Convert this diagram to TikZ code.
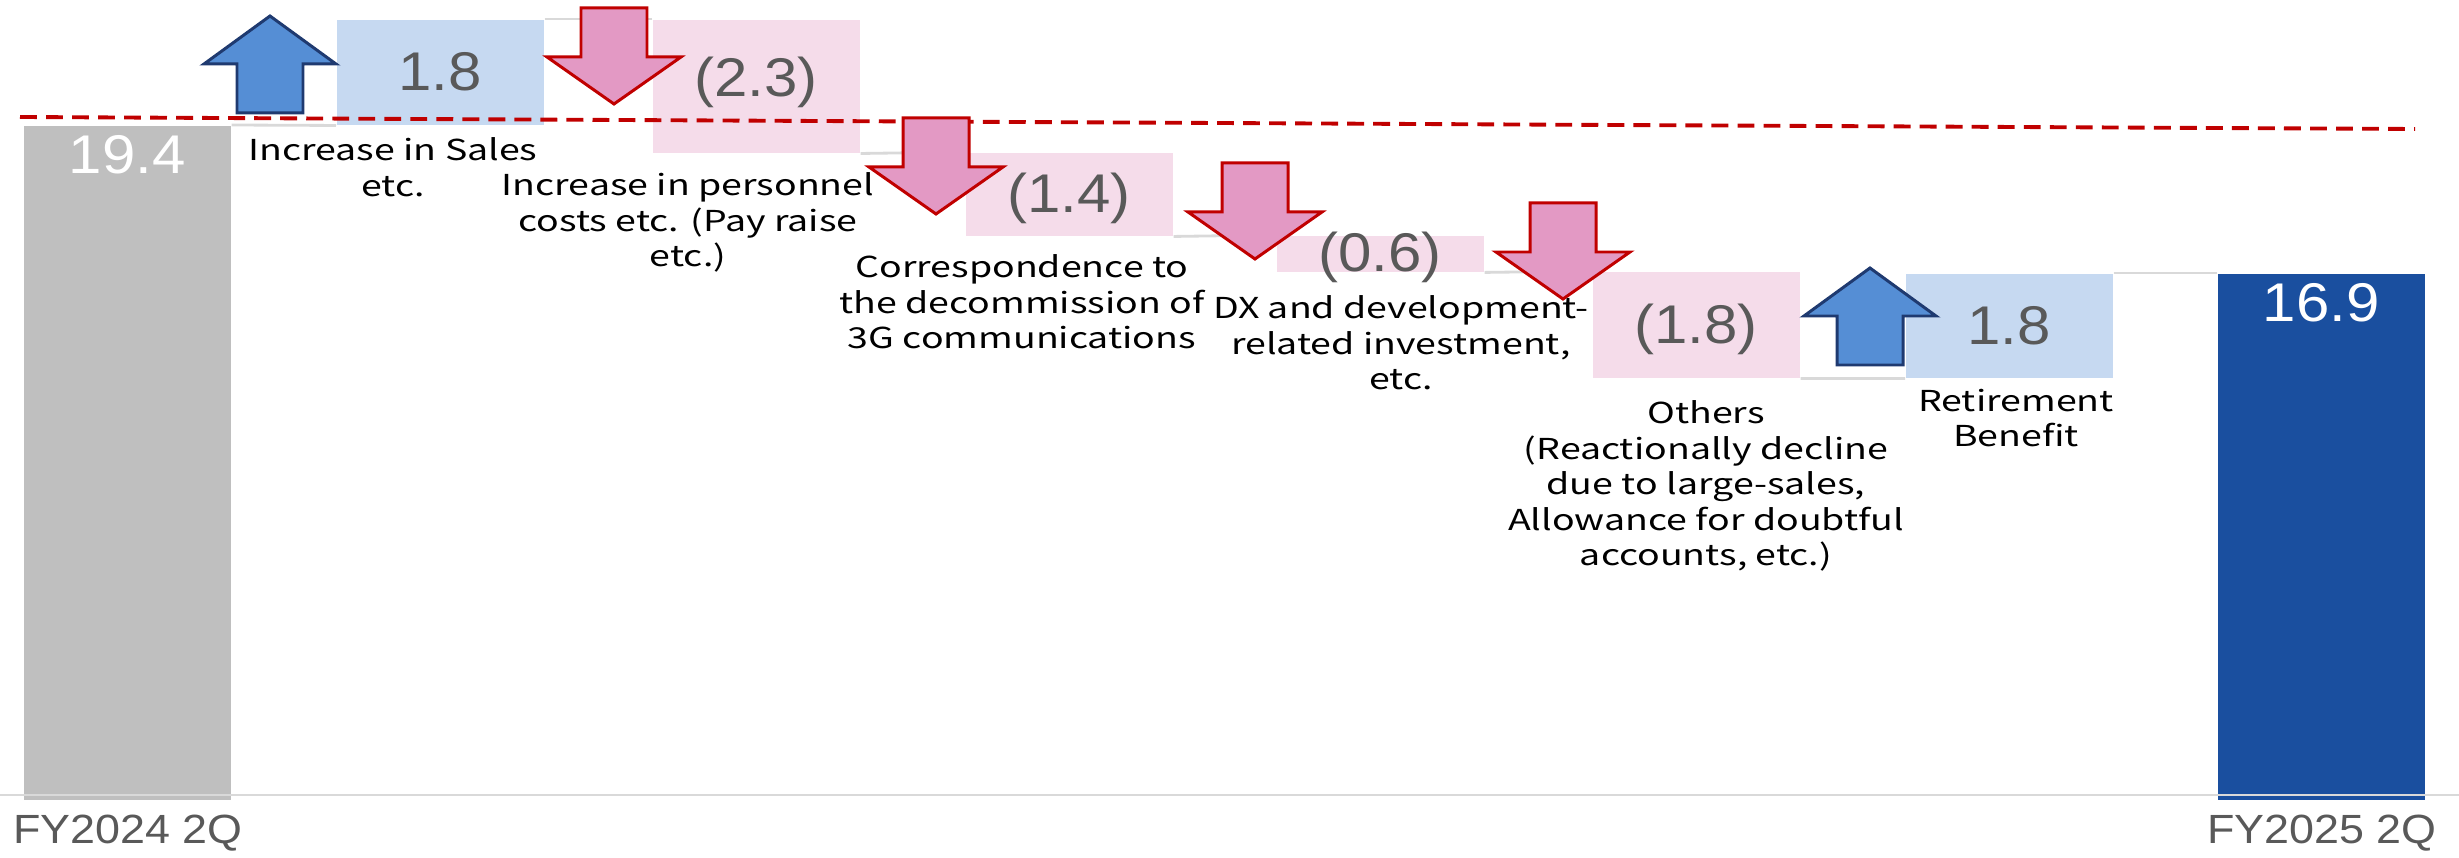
\documentclass[tikz,border=0pt]{standalone}
\usepackage{fontspec}
\setmainfont{Liberation Sans}
\newfontfamily\numfont[FakeStretch=1.1]{Liberation Sans}
\newfontfamily\lblfont[FakeStretch=1.3]{Noto Sans CJK JP}
\usetikzlibrary{positioning}
\usepackage{xcolor}

\definecolor{startgray}{HTML}{BFBFBF}
\definecolor{endblue}{HTML}{1A4F9F}
\definecolor{upbox}{HTML}{C6D9F1}
\definecolor{downbox}{HTML}{F5DCEA}
\definecolor{upfill}{HTML}{558ED5}
\definecolor{upedge}{HTML}{1F3A70}
\definecolor{downfill}{HTML}{E399C4}
\definecolor{downedge}{HTML}{C00000}
\definecolor{numgray}{HTML}{595959}
\definecolor{gridgray}{HTML}{D9D9D9}

% block arrows: centre x, foot y
\newcommand{\upblock}[2]{%
  \draw[uparr] (#1-33,#2) -- (#1-33,#2-49) -- (#1-66,#2-49) -- (#1,#2-97)
    -- (#1+66,#2-49) -- (#1+33,#2-49) -- (#1+33,#2) -- cycle;}
\newcommand{\downblock}[2]{%
  \draw[downarr] (#1-33,#2) -- (#1+33,#2) -- (#1+33,#2+49) -- (#1+67,#2+49)
    -- (#1,#2+96) -- (#1-67,#2+49) -- (#1-33,#2+49) -- cycle;}

\begin{document}
\begin{tikzpicture}[x=0.01cm, y=-0.01cm,
    bar/.style={anchor=north west, inner sep=0, minimum width=2.07cm},
    num/.style={inner sep=0, text=numgray, font=\numfont\fontsize{15.5}{18}\selectfont},
    lbl/.style={anchor=north, inner sep=0, align=center, font=\lblfont\fontsize{8.2}{10.1}\selectfont},
    axlbl/.style={inner sep=0, text=numgray, font=\numfont\fontsize{11.6}{14}\selectfont},
    link/.style={gridgray, line width=0.8pt},
    uparr/.style={fill=upfill, draw=upedge, line width=0.85pt},
    downarr/.style={fill=downfill, draw=downedge, line width=0.85pt}]
  \useasboundingbox (0,0) rectangle (2459,858);

  % bars
  \node[bar, fill=startgray, minimum height=6.74cm] (start) at (23,125) {};
  \node[bar, fill=upbox, minimum height=1.05cm] (inc1) at (336,19) {};
  \node[bar, fill=downbox, minimum height=1.33cm] (dec1) at (652,19) {};
  \node[bar, fill=downbox, minimum height=0.83cm] (dec2) at (965,152) {};
  \node[bar, fill=downbox, minimum height=0.36cm] (dec3) at (1276,235) {};
  \node[bar, fill=downbox, minimum height=1.06cm] (dec4) at (1592,271) {};
  \node[bar, fill=upbox, minimum height=1.04cm] (inc2) at (1905,273) {};
  \node[bar, fill=endblue, minimum height=5.26cm] (final) at (2217,273) {};

  % links between bars
  \draw[link] (start.north east) -- (inc1.south west);
  \draw[link] (inc1.north east) -- (dec1.north west);
  \draw[link] (dec1.south east) -- (dec2.north west);
  \draw[link] (dec2.south east) -- (dec3.north west);
  \draw[link] (dec3.south east) -- (dec4.north west);
  \draw[link] (dec4.south east) -- (inc2.south west);
  \draw[link] (inc2.north east) -- (final.north west);

  % axis
  \draw[gridgray, line width=0.6pt] (0,795) -- (2459,795);

  % values
  \node[num, text=white, anchor=north, yshift=-0.1cm] (startval) at (start.north) {19.4};
  \node[num, text=white, anchor=north, yshift=-0.1cm] (finalval) at (final.north) {16.9};
  \node[num] (inc1val) at (inc1.center) {1.8};
  \node[num, yshift=0.04cm] (dec1val) at (dec1.center) {(2.3)};
  \node[num, yshift=-0.04cm] (dec2val) at (dec2.center) {(1.4)};
  \node[num, yshift=-0.04cm] (dec3val) at (dec3.center) {(0.6)};
  \node[num, yshift=-0.05cm] (dec4val) at (dec4.center) {(1.8)};
  \node[num] (inc2val) at (inc2.center) {1.8};

  % target line
  \draw[downedge, line width=1.1pt, dash pattern=on 4.8pt off 2.6pt] (20,117) -- (2415,129);

  % arrows
  \upblock{270}{113}
  \downblock{614}{8}
  \downblock{936}{118}
  \downblock{1255}{163}
  \downblock{1563}{203}
  \upblock{1870}{365}

  % captions
  \node[lbl] (inc1lbl) at (393,137) {Increase in Sales\\etc.};
  \node[lbl] (dec1lbl) at (688,172) {Increase in personnel\\costs etc. (Pay raise\\etc.)};
  \node[lbl] (dec2lbl) at (1022,254) {Correspondence to\\the decommission of\\3G communications};
  \node[lbl] (dec3lbl) at (1401,295) {DX and development-\\related investment,\\etc.};
  \node[lbl] (dec4lbl) at (1706,400) {Others\\(Reactionally decline\\due to large-sales,\\Allowance for doubtful\\accounts, etc.)};
  \node[lbl] (inc2lbl) at (2016,388) {Retirement\\Benefit};

  \node[axlbl] (startax) at (128,833) {FY2024 2Q};
  \node[axlbl] (finalax) at (2322,833) {FY2025 2Q};
\end{tikzpicture}
\end{document}
